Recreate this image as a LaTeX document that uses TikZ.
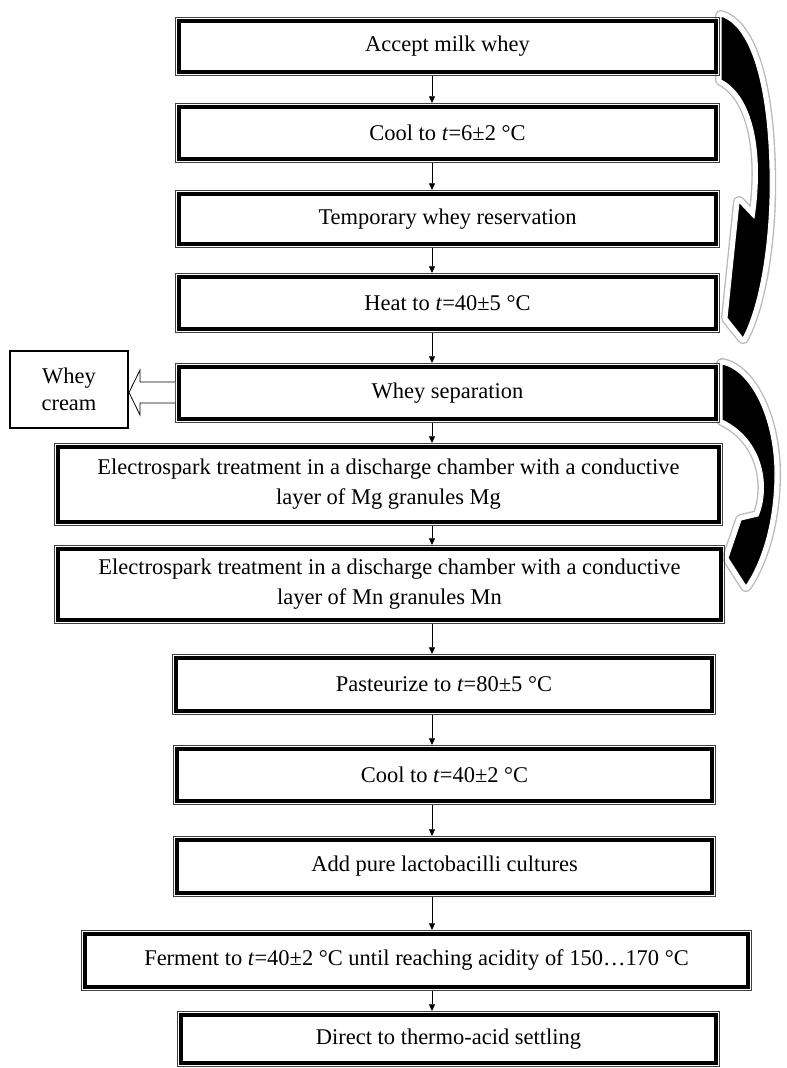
\documentclass[tikz,border=0pt]{standalone}
\usepackage{fontspec}
\setmainfont{Liberation Serif}
\usetikzlibrary{arrows.meta,calc}
\begin{document}
\begin{tikzpicture}[x=0.75pt,y=-0.75pt,
  stepbox/.style={draw, line width=3pt, fill=white, inner sep=0pt, align=center,
    font=\fontsize{16.85}{22.5}\selectfont},
  outerframe/.style={draw=black!75, line width=0.75pt},
  arr/.style={-{Triangle[length=5pt,width=4.5pt]}, line width=0.6pt},
  curvearrow/.style={fill=black, draw=white, line width=0.8pt, line join=round,
    preaction={draw=gray!55, line width=9pt, line join=round},
    preaction={draw=white, line width=7pt, line join=round}},
  creambox/.style={draw, line width=1.5pt, align=center, inner sep=0pt,
    font=\fontsize{16.85}{20.5}\selectfont},
  hollow/.style={draw, fill=white, line width=0.6pt, line join=miter}]
\useasboundingbox (0,0) rectangle (787,1068);

% curved block arrows
\path[curvearrow] (721,16) .. controls (758,28) and (772,110) .. (770,200)
  .. controls (768,262) and (757,312) .. (743,338) -- (727,318) -- (739,202)
  -- (754,218) .. controls (764,150) and (752,96) .. (721,80) -- cycle;
\path[curvearrow] (722,364) .. controls (752,370) and (776,420) .. (775,478)
  .. controls (774,525) and (762,562) .. (746,586) -- (728,558) -- (741,520)
  -- (758,516) .. controls (770,488) and (764,440) .. (722,420) -- cycle;

% process boxes
\node[stepbox, minimum width=402.05pt, minimum height=37.55pt] (b1) at (447.5,46.5) {Accept milk whey};
\node[stepbox, minimum width=402.05pt, minimum height=38.3pt] (b2) at (447.5,133) {Cool to \textit{t}=6±2 °C};
\node[stepbox, minimum width=402.05pt, minimum height=36.8pt] (b3) at (447.5,219) {Temporary whey reservation};
\node[stepbox, minimum width=402.05pt, minimum height=38.3pt] (b4) at (447.5,303) {Heat to \textit{t}=40±5 °C};
\node[stepbox, minimum width=402.05pt, minimum height=38.3pt] (b5) at (447.5,393) {Whey separation};
\node[stepbox, minimum width=495.05pt, minimum height=55.55pt] (b6) at (388.5,484.5) {Electrospark treatment in a discharge chamber with a conductive\\layer of Mg granules Mg};
\node[stepbox, minimum width=496.55pt, minimum height=52.55pt] (b7) at (389.5,584.5) {Electrospark treatment in a discharge chamber with a conductive\\layer of Mn granules Mn};
\node[stepbox, minimum width=401.3pt, minimum height=39.05pt] (b8) at (444,684.5) {Pasteurize to \textit{t}=80±5 °C};
\node[stepbox, minimum width=400.55pt, minimum height=38.3pt] (b9) at (444.5,775) {Cool to \textit{t}=40±2 °C};
\node[stepbox, minimum width=400.55pt, minimum height=39.05pt] (b10) at (444.5,866.5) {Add pure lactobacilli cultures};
\node[stepbox, minimum width=496.55pt, minimum height=39.05pt] (b11) at (416.5,960.5) {Ferment to \textit{t}=40±2 °C until reaching acidity of 150…170 °C};
\node[stepbox, minimum width=400.55pt, minimum height=35.3pt] (b12) at (448.5,1039) {Direct to thermo-acid settling};

\foreach \n in {b1,b2,b3,b4,b5,b6,b7,b8,b9,b10,b11,b12}
  \draw[outerframe] ([shift={(-1.5pt,1.5pt)}]\n.north west) rectangle ([shift={(1.5pt,-1.5pt)}]\n.south east);

% whey cream
\node[creambox, minimum width=88.5pt, minimum height=57.75pt] (cream) at (69,389.5) {Whey\\cream};
\draw[hollow] (175,382) -- (140,382) -- (140,370) -- (cream.east |- 0,392.5) -- (140,415) -- (140,403) -- (175,403);

% connectors
\coordinate (cx) at (432,0);
\foreach \a/\b in {b1/b2,b2/b3,b3/b4,b4/b5,b5/b6,b6/b7,b7/b8,b8/b9,b9/b10,b10/b11,b11/b12}
  \draw[arr] ([yshift=-1.9pt]\a.south -| cx) -- ([yshift=1.9pt]\b.north -| cx);
\end{tikzpicture}
\end{document}
